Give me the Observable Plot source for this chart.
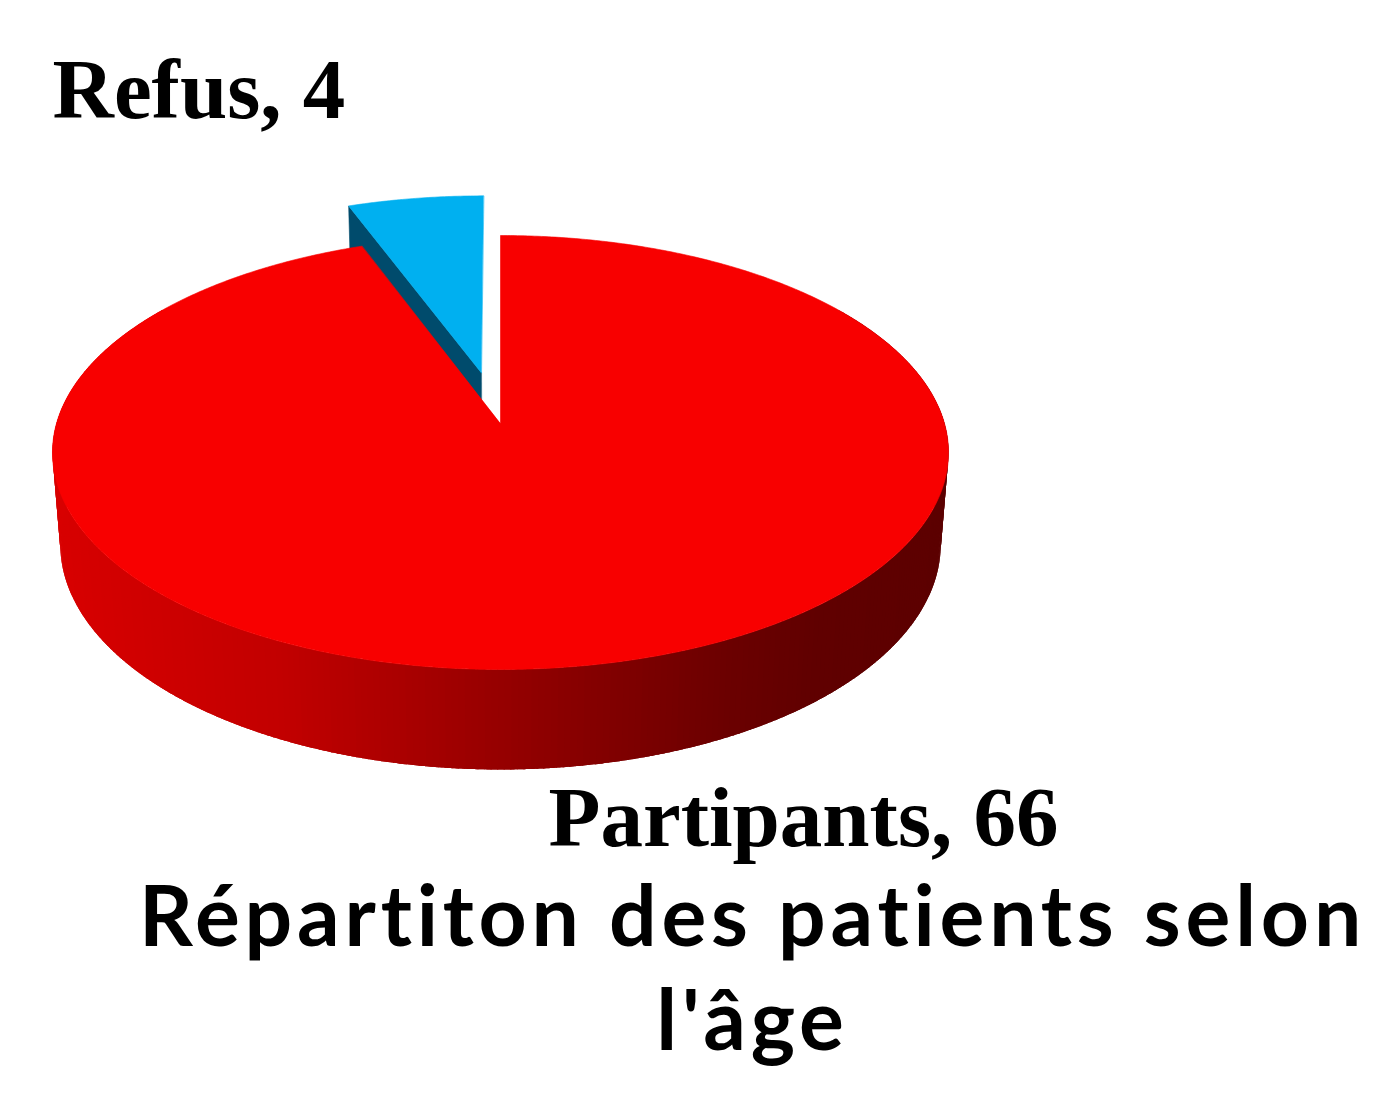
<!DOCTYPE html>
<html>
<head>
<meta charset="utf-8">
<script src="https://cdn.jsdelivr.net/npm/d3@7"></script>
<script src="https://cdn.jsdelivr.net/npm/@observablehq/plot@0.6"></script>
<style>
  html, body { margin: 0; padding: 0; background: #ffffff; }
  #wrap { width: 1385px; height: 1100px; position: relative; overflow: hidden; }
  #title {
    width: 1385px; box-sizing: border-box; padding-left: 120px;
    text-align: center; white-space: nowrap;
    font-family: Lato, "Open Sans", sans-serif; font-weight: 700;
    font-size: 84px; line-height: 104px; color: #000;
    letter-spacing: 4.8px;
    font-variant-ligatures: none; font-feature-settings: "liga" 0, "clig" 0;
    margin-top: -8px;
  }
</style>
</head>
<body>
<div id="wrap">
  <div id="chart"></div>
  <div id="title">Répartiton des patients selon<br>l'âge</div>
</div>
<script>
// ---- data ----
const categories = ["Partipants", "Refus"];
const values = [66, 4];
const topColors = ["#f80000", "#00b0f0"];
const cutFaceColors = ["#8a0000", "#004b6c"];

// ---- 3D pie projection parameters (styling) ----
const sinA = 0.48, cosA = 0.877, D = 6.563, depth = 0.238;
const explode = [0, 0.25];
const total = d3.sum(values);

function proj(X, Y, Z) {
  const v = Y * cosA - Z * sinA;
  const w = Y * sinA + Z * cosA;
  const s = D / (D - w);
  return {x: X * s, y: v * s};
}
const rad = (deg) => deg * Math.PI / 180;
// point on rim at angle theta (deg, clockwise from 12 o'clock), offset (ox, oz)
function rim(theta, Y, ox, oz) {
  const t = rad(theta);
  return proj(Math.sin(t) + ox, Y, -Math.cos(t) + oz);
}

// slices
let acc = 0;
const slices = categories.map((c, i) => {
  const a0 = acc / total * 360;
  acc += values[i];
  const a1 = acc / total * 360;
  const mid = rad((a0 + a1) / 2);
  const ox = explode[i] * Math.sin(mid), oz = -explode[i] * Math.cos(mid);
  return {category: c, value: values[i], a0, a1, ox, oz, i};
});

// polygons
function topFace(sl) {
  const pts = [proj(sl.ox, 0, sl.oz)];
  const n = Math.max(2, Math.ceil((sl.a1 - sl.a0) / 0.5));
  for (let k = 0; k <= n; k++) pts.push(rim(sl.a0 + (sl.a1 - sl.a0) * k / n, 0, sl.ox, sl.oz));
  return pts.map(p => ({...p, id: "top-" + sl.i, color: topColors[sl.i]}));
}
function cutFace(sl, angle) {
  const c0 = proj(sl.ox, 0, sl.oz), c1 = proj(sl.ox, -depth, sl.oz);
  const r0 = rim(angle, 0, sl.ox, sl.oz), r1 = rim(angle, -depth, sl.ox, sl.oz);
  return [c0, r0, r1, c1].map(p => ({...p, id: "cut-" + sl.i + "-" + angle, color: cutFaceColors[sl.i]}));
}
const sideShade = d3.scaleLinear()
  .domain([-1.01, -0.5, 0, 0.5, 0.72, 1.01])
  .range(["#d80000", "#c20000", "#960000", "#6c0000", "#600000", "#5c0000"])
  .interpolate(d3.interpolateRgb)
  .clamp(true);
function sideStrips(sl, from, to) {
  const out = [];
  const lo = Math.max(from, sl.a0), hi = Math.min(to, sl.a1);
  const step = 0.75, overlap = 0.9;
  for (let a = lo; a < hi; a += step) {
    const b = Math.min(a + step + overlap, hi);
    const pts = [];
    for (let t = a; t < b; t += 0.25) pts.push(rim(t, 0, sl.ox, sl.oz));
    pts.push(rim(b, 0, sl.ox, sl.oz));
    const bottom = [];
    for (let t = a; t < b; t += 0.25) bottom.push(rim(t, -depth, sl.ox, sl.oz));
    bottom.push(rim(b, -depth, sl.ox, sl.oz));
    const poly = [...pts, ...bottom.reverse()];
    const color = sideShade((rim(a, 0, 0, 0).x + rim(a + step, 0, 0, 0).x) / 2);
    poly.forEach(q => out.push({...q, id: "side-" + sl.i + "-" + a, color}));
  }
  return out;
}

const red = slices[0], blue = slices[1];
const bluePolys = [...cutFace(blue, blue.a0), ...topFace(blue)];
const redSide = sideStrips(red, 55, 305);
const redTop = topFace(red);

// scales: 1 unit = 444 px, center at (500, 423)
const W = 1385, H = 870, K = 444, CX = 500, CY = 423;

const polyMark = (data, sw) => Plot.line(data, {
  x: "x", y: "y", z: "id", fill: "color", stroke: sw ? "color" : null, strokeWidth: sw || 0, curve: "linear-closed"
});

const labelFont = "'Liberation Serif', 'Times New Roman', serif";
const chart = Plot.plot({
  width: W, height: H, margin: 0,
  x: {domain: [-CX / K, (W - CX) / K], axis: null},
  y: {domain: [(CY - H) / K, CY / K], axis: null},
  color: {type: "identity"},
  style: {background: "transparent", overflow: "visible"},
  marks: [
    polyMark(bluePolys, 0.6),
    polyMark(redSide, 0),
    polyMark(redTop, 0.6),
    Plot.text([blue], {
      text: d => `${d.category}, ${d.value}`,
      frameAnchor: "top-left", dx: 52, dy: 117, lineAnchor: "bottom", textAnchor: "start",
      fontFamily: labelFont, fontWeight: "bold", fontSize: 85, fill: "#000"
    }),
    Plot.text([red], {
      text: d => `${d.category}, ${d.value}`,
      frameAnchor: "top-left", dx: 548, dy: 845, lineAnchor: "bottom", textAnchor: "start",
      fontFamily: labelFont, fontWeight: "bold", fontSize: 85, fill: "#000"
    })
  ]
});
document.getElementById("chart").appendChild(chart);
</script>
</body>
</html>
